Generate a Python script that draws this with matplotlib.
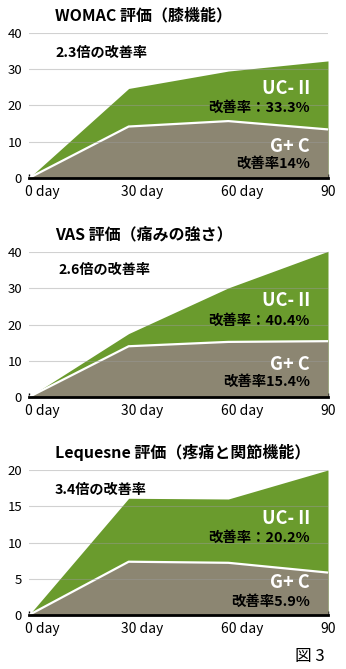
"""
Three stacked area charts: UC-II vs G+C improvement over 90 days.
"""

import matplotlib
matplotlib.use("Agg")
import matplotlib.pyplot as plt

plt.rcParams["font.family"] = ["Noto Sans CJK JP", "DejaVu Sans"]

DAYS = [0, 30, 60, 90]
DAY_LABELS = ["0 day", "30 day", "60 day", "90"]

WOMAC_UC = [0, 24.7, 29.5, 32.3]
WOMAC_GC = [0, 14.2, 15.7, 13.4]
VAS_UC = [0, 17.5, 30.1, 40.2]
VAS_GC = [0, 14.0, 15.2, 15.4]
LEQ_UC = [0, 16.1, 16.0, 20.0]
LEQ_GC = [0, 7.35, 7.2, 5.85]

TITLES = ["WOMAC 評価（膝機能）", "VAS 評価（痛みの強さ）", "Lequesne 評価（疼痛と関節機能）"]
RATIO_TEXT = ["2.3倍の改善率", "2.6倍の改善率", "3.4倍の改善率"]
UC_RATE = ["改善率：33.3%", "改善率：40.4%", "改善率：20.2%"]
GC_RATE = ["改善率14%", "改善率15.4%", "改善率5.9%"]
YMAX = [40, 40, 20]
YTICKS = [[0, 10, 20, 30, 40], [0, 10, 20, 30, 40], [0, 5, 10, 15, 20]]

GREEN = "#6a9b2d"
TAN = "#8c8672"

W, H = 346, 669
# axes boxes in pixels: (left, top, right, bottom)
BOXES = [(29, 33, 328, 178), (29, 252, 328, 397), (29, 470, 328, 615)]
# label heights above axis bottom in pixels: UC name, UC rate, GC name, GC rate
LABEL_Y = [(89, 70, 32, 14), (96, 76, 33, 15), (97, 77, 33, 13)]
RATIO_POS = [(55, 53), (58, 270), (55, 490)]

fig = plt.figure(figsize=(W / 100, H / 100), dpi=100)

series = [(WOMAC_UC, WOMAC_GC), (VAS_UC, VAS_GC), (LEQ_UC, LEQ_GC)]

for i, (uc, gc) in enumerate(series):
    l, t, r, b = BOXES[i]
    ax = fig.add_axes([l / W, 1 - b / H, (r - l) / W, (b - t) / H])
    ax.fill_between(DAYS, uc, color=GREEN, lw=0, clip_on=False, zorder=1)
    ax.fill_between(DAYS, gc, color=TAN, lw=0, zorder=2)
    ax.plot(DAYS, gc, color="white", lw=1.6, zorder=3, solid_capstyle="butt")
    for yv in YTICKS[i][1:]:
        ax.axhline(yv, color="#9a9a9a", lw=0.8, alpha=0.45, zorder=4)

    ax.set_xlim(0, 90)
    ax.set_ylim(0, YMAX[i])
    ax.set_yticks(YTICKS[i])
    ax.set_xticks(DAYS)
    ax.set_xticklabels([])
    ax.tick_params(axis="y", length=0, pad=5, labelsize=9.5)
    ax.tick_params(axis="x", direction="in", length=3, width=1, color="black")
    for s in ("top", "right", "left"):
        ax.spines[s].set_visible(False)
    ax.spines["bottom"].set_linewidth(2)
    ax.spines["bottom"].set_zorder(5)

    for d, lab in zip(DAYS, DAY_LABELS):
        num = lab.split()[0]
        ax.annotate(lab, xy=(d, 0), xycoords=("data", "axes fraction"),
                    xytext=(-len(num) * 2.6, -5), textcoords="offset points",
                    ha="left", va="top", fontsize=10)

    ph = b - t
    yu, yur, yg, ygr = LABEL_Y[i]
    xr = (310 - l) / (r - l)
    ax.text(xr, yu / ph, "UC- II", transform=ax.transAxes, ha="right", va="center",
            color="white", fontsize=13, fontweight="bold", zorder=6)
    ax.text(xr, yur / ph, UC_RATE[i], transform=ax.transAxes, ha="right", va="center",
            color="black", fontsize=10.4, fontweight="bold", zorder=6)
    ax.text(xr, yg / ph, "G+ C", transform=ax.transAxes, ha="right", va="center",
            color="white", fontsize=13, fontweight="bold", zorder=6)
    ax.text(xr, ygr / ph, GC_RATE[i], transform=ax.transAxes, ha="right", va="center",
            color="black", fontsize=10.4, fontweight="bold", zorder=6)

    fig.text(55 / W, 1 - (t - 18) / H, TITLES[i], ha="left", va="center",
             fontsize=11.5, fontweight="bold")
    rx, ry = RATIO_POS[i]
    fig.text(rx / W, 1 - ry / H, RATIO_TEXT[i], ha="left", va="center",
             fontsize=10.2, fontweight="bold")

fig.text(325 / W, 1 - 657 / H, "図 3", ha="right", va="center", fontsize=12)

fig.savefig("out.png", dpi=100)
